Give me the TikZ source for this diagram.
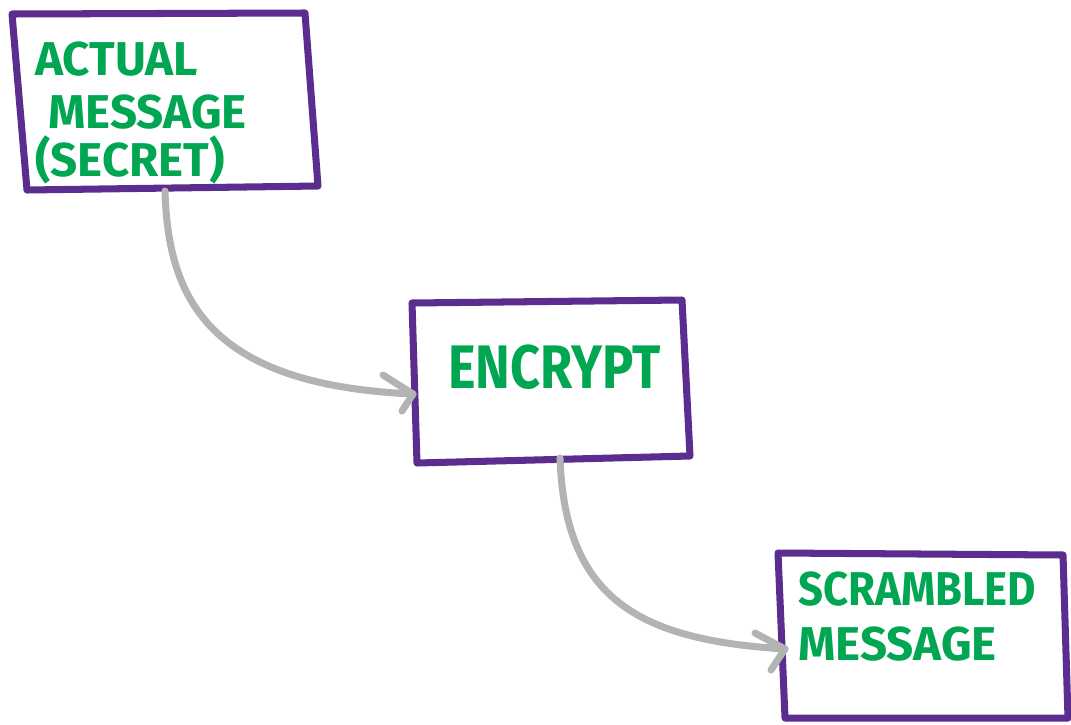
\documentclass[tikz,border=0pt]{standalone}
\usepackage{fontspec}
\setmainfont{Fira Sans}
\usetikzlibrary{arrows.meta}
\definecolor{boxpurple}{RGB}{91,45,142}
\definecolor{txtgreen}{RGB}{0,166,81}
\definecolor{arrgray}{RGB}{179,179,179}
\tikzset{
  sketchbox/.style={draw=boxpurple, line width=4pt, line join=round, line cap=round},
  label/.style={anchor=base west, inner sep=0pt, text=txtgreen, font=\fontsize{27}{30}\selectfont\bfseries},
  biglabel/.style={anchor=base west, inner sep=0pt, text=txtgreen, font=\fontsize{35}{40}\selectfont\bfseries},
  flow/.style={draw=arrgray, line width=4pt, line cap=round, line join=round},
  chev/.style={draw=arrgray, line width=4pt, line cap=round, line join=round}
}
\begin{document}
\begin{tikzpicture}[x=0.02cm, y=-0.02cm]
\useasboundingbox (0,0) rectangle (1071,724);
% boxes
\draw[sketchbox] (12,14) -- (305,13) -- (318,186) -- (27,190) -- cycle;
\draw[sketchbox] (412,303) -- (682,300) -- (690,456) -- (417,463) -- cycle;
\draw[sketchbox] (778,553) -- (1063,555) -- (1068,718) -- (785,718) -- cycle;
% texts
\node[label] (t1a) at (35,75) {ACTUAL};
\node[label] (t1b) at (48,128) {MESSAGE};
\node[label] (t1c) at (35,176) {(SECRET)};
\node[biglabel] (t2) at (448,388) {\scalebox{0.85}[1]{ENCRYPT}};
\node[label] (t3a) at (798,605) {\scalebox{0.92}[1]{SCRAMBLED}};
\node[label] (t3b) at (798,660) {MESSAGE};
% connector points
\coordinate (b1s) at (165,191);
\coordinate (b2w) at (413,394);
\coordinate (b2s) at (560,458);
\coordinate (b3w) at (785,649);
% arrows
\draw[flow] (b1s) .. controls (168,300) and (210,385) .. (b2w);
\draw[chev] (383,375) -- (b2w) -- (402,411);
\draw[flow] (b2s) .. controls (565,600) and (640,640) .. (b3w);
\draw[chev] (755,633) -- (b3w) -- (771,670);
\end{tikzpicture}
\end{document}
